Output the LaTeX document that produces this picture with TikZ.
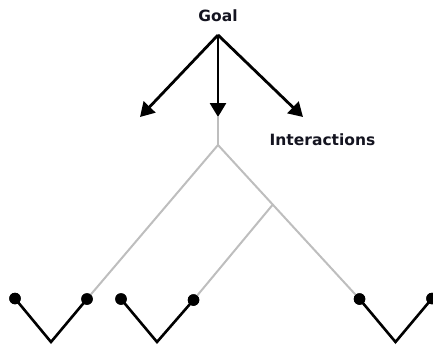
\documentclass[tikz,border=0pt]{standalone}
\usepackage{fontspec}
\setmainfont{DejaVu Sans}
\usetikzlibrary{arrows.meta}
\definecolor{txt}{HTML}{141420}
\definecolor{branch}{HTML}{BEBEBE}
\begin{document}
\begin{tikzpicture}[x=1pt,y=-1pt,
  lbl/.style={font=\fontsize{15.5}{17}\selectfont\bfseries, text=txt, inner sep=0pt},
  arr/.style={line width=2.8pt, -{Triangle[length=14pt,width=16pt]}},
  gline/.style={line width=2pt, draw=branch},
  vline/.style={line width=2.6pt, draw=black},
  dot/.style={circle, fill=black, minimum size=11.5pt, inner sep=0pt}]
\useasboundingbox (0,0) rectangle (433,345);
\node[lbl] (goal) at (218,16) {Goal};
\node[lbl] (inter) at (322.5,140) {Interactions};
\coordinate (src) at (218,35);
\coordinate (tl) at (140,117);
\coordinate (tm) at (218,117);
\coordinate (tr) at (303,117);
\coordinate (apex) at (218,145);
\coordinate (mid) at (272.7,204.7);
\node[dot] (d1) at (15,298.5) {};
\node[dot] (d2) at (87,299) {};
\node[dot] (d3) at (121,299) {};
\node[dot] (d4) at (193.5,300) {};
\node[dot] (d5) at (359.5,299) {};
\node[dot] (d6) at (432,298.5) {};
\coordinate (b1) at (51,342);
\coordinate (b2) at (157,342);
\coordinate (b3) at (395.5,342);
\draw[gline] (tm) -- (apex);
\draw[gline] (apex) -- (d2.center);
\draw[gline] (apex) -- (d5.center);
\draw[gline] (mid) -- (d4.center);
\draw[vline] (d1.center) -- (b1) -- (d2.center);
\draw[vline] (d3.center) -- (b2) -- (d4.center);
\draw[vline] (d5.center) -- (b3) -- (d6.center);
\node[dot] at (d1) {};\node[dot] at (d2) {};\node[dot] at (d3) {};
\node[dot] at (d4) {};\node[dot] at (d5) {};\node[dot] at (d6) {};
\draw[arr] (src) -- (tl);
\draw[arr] (src) -- (tm);
\draw[arr] (src) -- (tr);
\end{tikzpicture}
\end{document}
